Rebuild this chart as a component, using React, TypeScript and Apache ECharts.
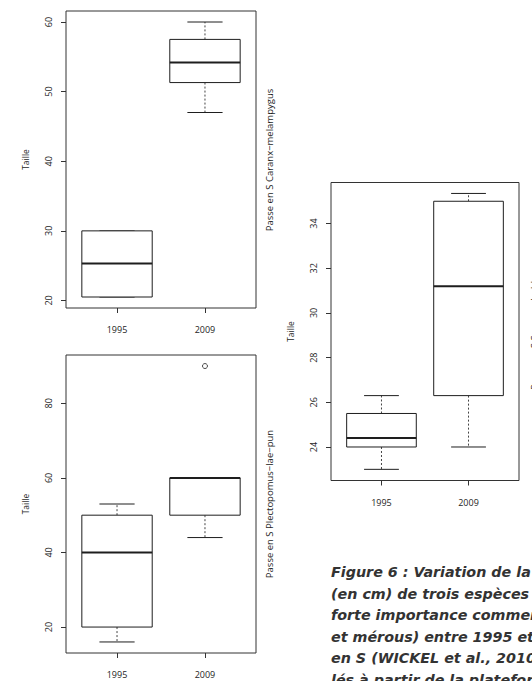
import React, { useEffect, useRef } from "react";
import * as echarts from "echarts";

// ---- data (boxplot stats: [min, Q1, median, Q3, max]) ----
const years = ["1995", "2009"];
const caranx1995 = [20.5, 20.5, 25.3, 30, 30];
const caranx2009 = [47, 51.3, 54.2, 57.5, 60];
const plectro1995 = [16, 20, 40, 50, 53];
const plectro2009 = [44, 50, 60, 60, 60];
const plectroOutliers2009 = [90];
const scarus1995 = [23, 24, 24.4, 25.5, 26.3];
const scarus2009 = [24, 26.3, 31.2, 35.0, 35.35];
const caranxTicks = [20, 30, 40, 50, 60];
const plectroTicks = [20, 40, 60, 80];
const scarusTicks = [24, 26, 28, 30, 32, 34];
const captionLines = [
  "Figure 6 : Variation de la taille",
  "(en cm) de trois espèces de",
  "forte importance commerciale",
  "et mérous) entre 1995 et 2009",
  "en S (WICKEL et al., 2010",
  "lés à partir de la plateforme",
];

const FONT = "Open Sans";
const INK = "#1e1e1e";

function boxRender(params: any, api: any) {
  const x = api.value(0);
  const mn = api.value(1), q1 = api.value(2), md = api.value(3), q3 = api.value(4), mx = api.value(5);
  const hw = 0.4, cw = 0.2;
  const tl = api.coord([x - hw, q3]);
  const br = api.coord([x + hw, q1]);
  const c = (a: number, b: number) => api.coord([a, b]);
  const line = (p1: number[], p2: number[], style: any) => ({
    type: "line",
    shape: { x1: p1[0], y1: p1[1], x2: p2[0], y2: p2[1] },
    style: Object.assign({ stroke: INK, lineWidth: 1 }, style),
  });
  const children: any[] = [];
  if (mx > q3) {
    children.push(line(c(x, q3), c(x, mx), { lineDash: [2, 2], stroke: "#444" }));
  }
  if (mn < q1) {
    children.push(line(c(x, q1), c(x, mn), { lineDash: [2, 2], stroke: "#444" }));
  }
  children.push(line(c(x - cw, mx), c(x + cw, mx), {}));
  children.push(line(c(x - cw, mn), c(x + cw, mn), {}));
  children.push({
    type: "rect",
    shape: { x: tl[0], y: tl[1], width: br[0] - tl[0], height: br[1] - tl[1] },
    style: { fill: "#fff", stroke: INK, lineWidth: 1 },
  });
  children.push(line(c(x - hw, md), c(x + hw, md), { lineWidth: 2 }));
  return { type: "group", children };
}

const grids = [
  { left: 66, top: 11, width: 190, height: 297 },
  { left: 66, top: 355, width: 190, height: 298 },
  { left: 331, top: 182.5, width: 188, height: 298 },
];
const yRanges = [
  [18.92, 61.58],
  [13.04, 92.96],
  [22.5, 35.84],
];
const yTicks = [caranxTicks, plectroTicks, scarusTicks];
const boxData = [
  [[1, ...caranx1995], [2, ...caranx2009]],
  [[1, ...plectro1995], [2, ...plectro2009]],
  [[1, ...scarus1995], [2, ...scarus2009]],
];

export default function App() {
  const ref = useRef<HTMLDivElement>(null);
  useEffect(() => {
    if (!ref.current) return;
    const chart = echarts.init(ref.current, undefined, { renderer: "svg" });
    const option: any = {
      animation: false,
      backgroundColor: "#fff",
      grid: grids.map((g) => ({
        ...g,
        show: true,
        borderColor: "#333",
        borderWidth: 1,
        backgroundColor: "transparent",
      })),
      xAxis: grids.map((_, i) => ({
        type: "value",
        gridIndex: i,
        min: 0.42,
        max: 2.58,
        splitLine: { show: false },
        axisLine: { show: false },
        axisTick: { show: true, length: 5, customValues: [1, 2], lineStyle: { color: "#333" } },
        axisLabel: {
          customValues: [1, 2],
          formatter: (v: number) => years[Math.round(v) - 1],
          margin: 17,
          fontSize: 9,
          fontFamily: FONT,
          color: INK,
        },
      })),
      yAxis: grids.map((_, i) => ({
        type: "value",
        gridIndex: i,
        min: yRanges[i][0],
        max: yRanges[i][1],
        splitLine: { show: false },
        axisLine: { show: false },
        axisTick: { show: true, length: 5, customValues: yTicks[i], lineStyle: { color: "#333" } },
        axisLabel: {
          customValues: yTicks[i],
          rotate: 90,
          margin: 13,
          fontSize: 9,
          fontFamily: FONT,
          color: INK,
        },
        name: "Taille",
        nameLocation: "middle",
        nameRotate: 90,
        nameGap: 36,
        nameTextStyle: { fontSize: 8.5, fontFamily: FONT, color: INK },
      })),
      series: [
        ...boxData.map((d, i) => ({
          type: "custom",
          xAxisIndex: i,
          yAxisIndex: i,
          renderItem: boxRender,
          encode: { x: 0, y: [1, 2, 3, 4, 5] },
          data: d,
          z: 3,
        })),
        {
          type: "scatter",
          xAxisIndex: 1,
          yAxisIndex: 1,
          symbol: "circle",
          symbolSize: 5,
          itemStyle: { color: "#fff", borderColor: INK, borderWidth: 1 },
          data: plectroOutliers2009.map((v) => [2, v]),
          z: 5,
        },
      ],
      graphic: [
        {
          type: "text",
          x: 269,
          y: 160,
          rotation: Math.PI / 2,
          style: {
            text: "Passe en S Caranx\u2212melampygus",
            font: `9.5px '${FONT}'`,
            fill: INK,
            align: "center",
            verticalAlign: "middle",
          },
        },
        {
          type: "text",
          x: 269,
          y: 504,
          rotation: Math.PI / 2,
          style: {
            text: "Passe en S Plectopomus\u2212lae\u2212pun",
            font: `9.5px '${FONT}'`,
            fill: INK,
            align: "center",
            verticalAlign: "middle",
          },
        },
        {
          type: "text",
          x: 534,
          y: 328,
          rotation: Math.PI / 2,
          style: {
            text: "Passe en S Scarus\u2212ghobban",
            font: `9.5px '${FONT}'`,
            fill: INK,
            align: "center",
            verticalAlign: "middle",
          },
        },
        ...captionLines.map((t, k) => ({
          type: "text",
          x: 331,
          y: 572 + k * 21.6,
          style: {
            text: t,
            font: "italic bold 14.3px 'DejaVu Sans'",
            fill: "#333",
            align: "left",
            verticalAlign: "middle",
          },
        })),
      ],
    };
    chart.setOption(option);
    return () => chart.dispose();
  }, []);
  return (
    <div
      ref={ref}
      style={{ position: "fixed", left: 0, top: 0, width: 532, height: 681 }}
    />
  );
}
